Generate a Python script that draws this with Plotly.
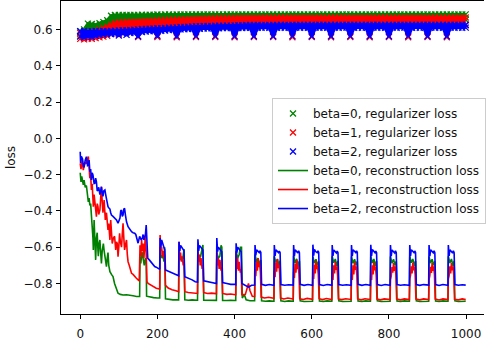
import plotly.graph_objects as go

# ---------------------------------------------------------------------------
# Regularizer loss: sampled every 10 steps, lower / upper edge of the noisy band
# ---------------------------------------------------------------------------
reg_steps = list(range(0, 1000, 10)) + [999]

reg_lo_beta0 = [
    0.565, 0.572, 0.590, 0.595, 0.598, 0.600, 0.604, 0.612, 0.640, 0.645,
    0.648, 0.648, 0.649, 0.648, 0.649, 0.635, 0.649, 0.650, 0.649, 0.650,
    0.636, 0.650, 0.651, 0.650, 0.651, 0.636, 0.651, 0.650, 0.651, 0.651,
    0.637, 0.651, 0.652, 0.651, 0.652, 0.637, 0.652, 0.651, 0.652, 0.652,
    0.638, 0.652, 0.653, 0.652, 0.653, 0.638, 0.653, 0.652, 0.653, 0.653,
    0.638, 0.652, 0.653, 0.652, 0.653, 0.638, 0.653, 0.652, 0.653, 0.653,
    0.638, 0.652, 0.653, 0.652, 0.653, 0.638, 0.653, 0.652, 0.653, 0.653,
    0.638, 0.652, 0.653, 0.652, 0.653, 0.638, 0.653, 0.652, 0.653, 0.653,
    0.638, 0.652, 0.653, 0.652, 0.653, 0.638, 0.653, 0.652, 0.653, 0.653,
    0.638, 0.652, 0.653, 0.652, 0.653, 0.638, 0.653, 0.652, 0.653, 0.653,
    0.653,
]
reg_hi_beta0 = [
    0.590, 0.600, 0.632, 0.630, 0.626, 0.634, 0.640, 0.650, 0.675, 0.679,
    0.680, 0.680, 0.679, 0.680, 0.680, 0.680, 0.681, 0.680, 0.681, 0.681,
    0.682, 0.681, 0.682, 0.682, 0.681, 0.682, 0.682, 0.682, 0.683, 0.682,
    0.683, 0.682, 0.683, 0.683, 0.682, 0.683, 0.683, 0.682, 0.683, 0.683,
    0.683, 0.682, 0.683, 0.683, 0.682, 0.683, 0.683, 0.682, 0.683, 0.683,
    0.683, 0.682, 0.683, 0.683, 0.682, 0.683, 0.683, 0.682, 0.683, 0.683,
    0.683, 0.682, 0.683, 0.683, 0.682, 0.683, 0.683, 0.682, 0.683, 0.683,
    0.683, 0.682, 0.683, 0.683, 0.682, 0.683, 0.683, 0.682, 0.683, 0.683,
    0.683, 0.682, 0.683, 0.683, 0.682, 0.683, 0.683, 0.682, 0.683, 0.683,
    0.683, 0.682, 0.683, 0.683, 0.682, 0.683, 0.683, 0.682, 0.683, 0.683,
    0.683,
]
reg_lo_beta1 = [
    0.548, 0.545, 0.550, 0.548, 0.552, 0.556, 0.560, 0.565, 0.575, 0.585,
    0.575, 0.592, 0.585, 0.596, 0.598, 0.558, 0.600, 0.602, 0.604, 0.605,
    0.558, 0.608, 0.609, 0.610, 0.611, 0.557, 0.612, 0.613, 0.613, 0.614,
    0.558, 0.615, 0.616, 0.616, 0.617, 0.558, 0.618, 0.618, 0.619, 0.619,
    0.557, 0.620, 0.620, 0.621, 0.621, 0.558, 0.621, 0.622, 0.622, 0.622,
    0.558, 0.622, 0.623, 0.622, 0.623, 0.557, 0.623, 0.622, 0.623, 0.623,
    0.558, 0.622, 0.623, 0.622, 0.623, 0.557, 0.623, 0.622, 0.623, 0.623,
    0.558, 0.622, 0.623, 0.622, 0.623, 0.557, 0.623, 0.622, 0.623, 0.623,
    0.558, 0.622, 0.623, 0.622, 0.623, 0.557, 0.623, 0.622, 0.623, 0.623,
    0.558, 0.622, 0.623, 0.622, 0.623, 0.557, 0.623, 0.622, 0.623, 0.623,
    0.623,
]
reg_hi_beta1 = [
    0.580, 0.582, 0.585, 0.588, 0.592, 0.598, 0.606, 0.615, 0.626, 0.635,
    0.638, 0.640, 0.641, 0.642, 0.643, 0.644, 0.645, 0.646, 0.647, 0.648,
    0.649, 0.650, 0.651, 0.652, 0.653, 0.654, 0.655, 0.656, 0.656, 0.657,
    0.658, 0.659, 0.659, 0.660, 0.660, 0.660, 0.661, 0.661, 0.661, 0.662,
    0.662, 0.663, 0.663, 0.663, 0.664, 0.664, 0.664, 0.665, 0.664, 0.665,
    0.665, 0.665, 0.666, 0.665, 0.665, 0.666, 0.665, 0.666, 0.665, 0.666,
    0.665, 0.665, 0.666, 0.665, 0.665, 0.666, 0.665, 0.666, 0.665, 0.666,
    0.665, 0.665, 0.666, 0.665, 0.665, 0.666, 0.665, 0.666, 0.665, 0.666,
    0.665, 0.665, 0.666, 0.665, 0.665, 0.666, 0.665, 0.666, 0.665, 0.666,
    0.665, 0.665, 0.666, 0.665, 0.665, 0.666, 0.665, 0.666, 0.665, 0.666,
    0.666,
]
reg_lo_beta2 = [
    0.560, 0.556, 0.562, 0.558, 0.565, 0.570, 0.572, 0.574, 0.575, 0.576,
    0.566, 0.578, 0.570, 0.580, 0.582, 0.562, 0.586, 0.588, 0.590, 0.591,
    0.565, 0.593, 0.594, 0.596, 0.598, 0.563, 0.600, 0.601, 0.602, 0.603,
    0.563, 0.604, 0.605, 0.605, 0.606, 0.563, 0.606, 0.607, 0.607, 0.607,
    0.562, 0.608, 0.608, 0.609, 0.609, 0.562, 0.609, 0.609, 0.610, 0.609,
    0.562, 0.609, 0.610, 0.609, 0.609, 0.563, 0.610, 0.609, 0.610, 0.609,
    0.562, 0.610, 0.609, 0.610, 0.609, 0.562, 0.610, 0.609, 0.610, 0.610,
    0.563, 0.609, 0.610, 0.609, 0.610, 0.562, 0.610, 0.609, 0.610, 0.609,
    0.562, 0.610, 0.609, 0.610, 0.610, 0.563, 0.609, 0.610, 0.609, 0.610,
    0.562, 0.610, 0.609, 0.610, 0.609, 0.562, 0.610, 0.609, 0.610, 0.609,
    0.610,
]
reg_hi_beta2 = [
    0.590, 0.592, 0.588, 0.590, 0.592, 0.590, 0.591, 0.590, 0.592, 0.593,
    0.594, 0.595, 0.596, 0.597, 0.598, 0.600, 0.602, 0.603, 0.604, 0.605,
    0.606, 0.607, 0.608, 0.609, 0.610, 0.611, 0.613, 0.614, 0.615, 0.616,
    0.617, 0.618, 0.619, 0.619, 0.619, 0.620, 0.620, 0.620, 0.621, 0.621,
    0.622, 0.623, 0.623, 0.624, 0.624, 0.624, 0.625, 0.624, 0.625, 0.625,
    0.625, 0.625, 0.626, 0.625, 0.625, 0.626, 0.625, 0.626, 0.625, 0.626,
    0.626, 0.625, 0.626, 0.626, 0.625, 0.626, 0.626, 0.625, 0.626, 0.626,
    0.626, 0.626, 0.625, 0.626, 0.626, 0.625, 0.626, 0.626, 0.625, 0.626,
    0.626, 0.625, 0.626, 0.626, 0.625, 0.626, 0.626, 0.625, 0.626, 0.626,
    0.626, 0.626, 0.625, 0.626, 0.626, 0.625, 0.626, 0.626, 0.625, 0.626,
    0.626,
]

# ---------------------------------------------------------------------------
# Reconstruction loss: (step, loss) vertices of each curve
# ---------------------------------------------------------------------------
recon_beta0 = [
    (0, -0.190), (2, -0.240), (4, -0.210), (6, -0.250), (8, -0.257), (10, -0.230),
    (13, -0.270), (16, -0.260), (19, -0.320), (21, -0.350), (23, -0.330), (25, -0.370),
    (27, -0.360), (29, -0.413), (31, -0.450), (33, -0.550), (34, -0.615), (36, -0.450),
    (38, -0.560), (40, -0.670), (42, -0.550), (44, -0.520), (46, -0.620), (47, -0.650),
    (49, -0.580), (51, -0.560), (53, -0.630), (55, -0.689), (57, -0.620), (60, -0.580),
    (62, -0.620), (64, -0.650), (66, -0.690), (68, -0.707), (70, -0.660), (72, -0.630),
    (74, -0.700), (77, -0.735), (81, -0.750), (85, -0.762), (89, -0.800), (93, -0.830),
    (98, -0.854), (104, -0.860), (111, -0.863), (120, -0.862), (128, -0.863), (137, -0.868),
    (146, -0.872), (154, -0.872), (155, -0.650), (157, -0.690), (160, -0.625), (163, -0.670),
    (166, -0.700), (169, -0.660), (171, -0.680), (172, -0.870), (180, -0.875), (190, -0.878),
    (200, -0.880), (205, -0.880),
    (206, -0.880), (207, -0.600), (209, -0.640), (212, -0.660), (215, -0.650), (217, -0.680),
    (219, -0.600), (221, -0.884), (230, -0.888), (240, -0.890), (254, -0.890),
    (255, -0.890), (256, -0.620), (258, -0.660), (262, -0.670), (266, -0.660), (269, -0.610),
    (271, -0.890), (280, -0.892), (290, -0.890), (303, -0.892),
    (304, -0.892), (305, -0.630), (308, -0.660), (312, -0.650), (316, -0.600), (318, -0.588),
    (320, -0.892), (330, -0.893), (340, -0.891), (352, -0.893),
    (353, -0.893), (354, -0.630), (358, -0.660), (362, -0.650), (365, -0.590), (367, -0.600),
    (369, -0.893), (380, -0.894), (390, -0.892), (402, -0.894),
    (403, -0.894), (404, -0.620), (408, -0.660), (412, -0.640), (415, -0.600), (418, -0.600),
    (420, -0.880), (425, -0.860), (430, -0.890), (440, -0.895), (451, -0.895),
    (452, -0.895), (453, -0.640), (457, -0.680), (461, -0.660), (465, -0.700), (468, -0.670),
    (470, -0.895), (480, -0.898), (490, -0.896), (501, -0.898),
    (502, -0.898), (503, -0.650), (507, -0.685), (511, -0.665), (515, -0.700), (518, -0.675),
    (520, -0.896), (530, -0.899), (540, -0.896), (551, -0.898),
    (552, -0.898), (553, -0.648), (557, -0.686), (561, -0.664), (565, -0.702), (568, -0.676),
    (570, -0.896), (580, -0.899), (590, -0.897), (601, -0.898),
    (602, -0.898), (603, -0.652), (607, -0.688), (611, -0.666), (615, -0.700), (618, -0.678),
    (620, -0.897), (630, -0.899), (640, -0.896), (651, -0.898),
    (652, -0.898), (653, -0.650), (657, -0.686), (661, -0.665), (665, -0.702), (668, -0.676),
    (670, -0.896), (680, -0.899), (690, -0.897), (701, -0.898),
    (702, -0.898), (703, -0.652), (707, -0.688), (711, -0.666), (715, -0.700), (718, -0.677),
    (720, -0.897), (730, -0.899), (740, -0.896), (751, -0.898),
    (752, -0.898), (753, -0.650), (757, -0.687), (761, -0.665), (765, -0.702), (768, -0.676),
    (770, -0.896), (780, -0.899), (790, -0.897), (802, -0.898),
    (803, -0.898), (804, -0.652), (808, -0.688), (812, -0.666), (816, -0.700), (819, -0.677),
    (821, -0.897), (830, -0.899), (840, -0.896), (852, -0.898),
    (853, -0.898), (854, -0.650), (858, -0.686), (862, -0.665), (866, -0.702), (869, -0.676),
    (871, -0.896), (880, -0.899), (890, -0.897), (902, -0.898),
    (903, -0.898), (904, -0.652), (908, -0.688), (912, -0.666), (916, -0.700), (919, -0.677),
    (921, -0.897), (930, -0.899), (940, -0.896), (952, -0.898),
    (953, -0.898), (954, -0.650), (958, -0.687), (962, -0.665), (966, -0.702), (969, -0.676),
    (971, -0.896), (980, -0.899), (990, -0.897), (999, -0.898),
]

recon_beta1 = [
    (0, -0.138), (2, -0.170), (5, -0.120), (8, -0.175), (10, -0.150), (13, -0.130),
    (16, -0.140), (19, -0.120), (21, -0.100), (23, -0.160), (25, -0.220), (27, -0.200),
    (29, -0.285), (31, -0.250), (34, -0.377), (36, -0.310), (38, -0.340), (40, -0.390),
    (42, -0.432), (44, -0.360), (46, -0.377), (48, -0.420), (51, -0.395), (53, -0.330),
    (55, -0.267), (57, -0.350), (59, -0.410), (62, -0.340), (65, -0.450), (68, -0.410),
    (70, -0.470), (72, -0.505), (74, -0.470), (77, -0.560), (79, -0.450), (81, -0.520),
    (83, -0.580), (86, -0.550), (89, -0.540), (92, -0.615), (94, -0.570), (96, -0.580),
    (98, -0.652), (100, -0.600), (102, -0.523), (104, -0.570), (107, -0.600), (109, -0.530),
    (111, -0.468), (113, -0.550), (115, -0.615), (118, -0.580), (120, -0.560), (122, -0.640),
    (124, -0.680), (127, -0.700), (130, -0.730), (133, -0.744), (137, -0.750), (141, -0.762),
    (145, -0.770), (150, -0.780), (153, -0.785), (155, -0.590), (157, -0.650), (159, -0.560),
    (161, -0.620), (163, -0.580), (165, -0.660), (167, -0.600), (169, -0.530), (171, -0.640),
    (173, -0.790), (176, -0.800), (183, -0.810), (190, -0.820), (197, -0.826), (205, -0.830),
    (206, -0.830), (207, -0.533), (209, -0.620), (211, -0.600), (213, -0.650), (215, -0.620),
    (217, -0.660), (219, -0.640), (221, -0.810), (228, -0.825), (238, -0.835), (248, -0.840),
    (254, -0.845),
    (255, -0.845), (256, -0.570), (258, -0.660), (260, -0.630), (262, -0.680), (264, -0.650),
    (267, -0.700), (269, -0.680), (271, -0.845), (280, -0.850), (290, -0.852), (303, -0.855),
    (304, -0.855), (305, -0.600), (307, -0.680), (309, -0.640), (311, -0.700), (313, -0.660),
    (316, -0.720), (318, -0.700), (320, -0.850), (330, -0.855), (340, -0.853), (352, -0.856),
    (353, -0.856), (354, -0.610), (356, -0.700), (358, -0.660), (360, -0.720), (362, -0.670),
    (365, -0.730), (367, -0.710), (369, -0.855), (380, -0.860), (390, -0.858), (402, -0.862),
    (403, -0.862), (404, -0.625), (406, -0.720), (408, -0.660), (410, -0.730), (412, -0.680),
    (415, -0.740), (417, -0.720), (419, -0.862), (428, -0.860), (436, -0.800), (440, -0.840),
    (446, -0.870), (451, -0.872),
    (452, -0.872), (453, -0.720), (455, -0.760), (457, -0.680), (459, -0.730), (461, -0.660),
    (463, -0.710), (465, -0.690), (467, -0.740), (469, -0.875), (478, -0.880), (488, -0.876),
    (501, -0.882),
    (502, -0.882), (503, -0.730), (505, -0.765), (507, -0.685), (509, -0.735), (511, -0.665),
    (513, -0.715), (515, -0.695), (517, -0.745), (519, -0.880), (528, -0.885), (538, -0.880),
    (551, -0.886),
    (552, -0.886), (553, -0.735), (555, -0.770), (557, -0.690), (559, -0.740), (561, -0.670),
    (563, -0.720), (565, -0.700), (567, -0.750), (569, -0.884), (578, -0.888), (588, -0.882),
    (601, -0.887),
    (602, -0.887), (603, -0.740), (605, -0.775), (607, -0.695), (609, -0.745), (611, -0.675),
    (613, -0.720), (615, -0.700), (617, -0.750), (619, -0.884), (628, -0.889), (638, -0.883),
    (651, -0.888),
    (652, -0.888), (653, -0.740), (655, -0.780), (657, -0.700), (659, -0.745), (661, -0.680),
    (663, -0.725), (665, -0.705), (667, -0.755), (669, -0.885), (678, -0.889), (688, -0.884),
    (701, -0.888),
    (702, -0.888), (703, -0.745), (705, -0.780), (707, -0.700), (709, -0.750), (711, -0.680),
    (713, -0.725), (715, -0.705), (717, -0.755), (719, -0.885), (728, -0.890), (738, -0.884),
    (751, -0.889),
    (752, -0.889), (753, -0.745), (755, -0.780), (757, -0.700), (759, -0.750), (761, -0.682),
    (763, -0.728), (765, -0.705), (767, -0.755), (769, -0.886), (778, -0.890), (788, -0.885),
    (802, -0.889),
    (803, -0.889), (804, -0.780), (806, -0.760), (808, -0.710), (810, -0.740), (812, -0.688),
    (814, -0.730), (816, -0.705), (818, -0.750), (820, -0.886), (830, -0.890), (840, -0.885),
    (852, -0.889),
    (853, -0.889), (854, -0.775), (856, -0.755), (858, -0.705), (860, -0.745), (862, -0.685),
    (864, -0.728), (866, -0.705), (868, -0.752), (870, -0.886), (880, -0.890), (890, -0.885),
    (902, -0.889),
    (903, -0.889), (904, -0.778), (906, -0.758), (908, -0.708), (910, -0.742), (912, -0.686),
    (914, -0.730), (916, -0.706), (918, -0.750), (920, -0.886), (930, -0.891), (940, -0.885),
    (952, -0.889),
    (953, -0.889), (954, -0.776), (956, -0.756), (958, -0.706), (960, -0.744), (962, -0.688),
    (964, -0.728), (966, -0.705), (968, -0.752), (970, -0.887), (980, -0.890), (990, -0.885),
    (999, -0.889),
]

recon_beta2 = [
    (0, -0.074), (1, -0.138), (3, -0.100), (6, -0.114), (8, -0.150), (10, -0.160),
    (13, -0.120), (16, -0.101), (19, -0.150), (21, -0.147), (23, -0.120), (25, -0.184),
    (27, -0.170), (29, -0.230), (31, -0.190), (33, -0.202), (36, -0.250), (38, -0.248),
    (40, -0.220), (42, -0.240), (44, -0.290), (46, -0.285), (48, -0.270), (51, -0.310),
    (53, -0.290), (55, -0.267), (57, -0.300), (59, -0.320), (61, -0.290), (64, -0.285),
    (66, -0.310), (68, -0.330), (70, -0.360), (72, -0.377), (75, -0.385), (77, -0.390),
    (79, -0.410), (81, -0.423), (85, -0.430), (90, -0.440), (94, -0.450), (98, -0.468),
    (101, -0.450), (103, -0.440), (105, -0.400), (107, -0.395), (109, -0.430), (111, -0.423),
    (113, -0.390), (115, -0.386), (117, -0.420), (120, -0.460), (124, -0.487), (128, -0.500),
    (133, -0.515), (137, -0.520), (141, -0.523), (144, -0.530), (146, -0.550), (150, -0.578),
    (154, -0.540), (156, -0.555), (158, -0.560), (161, -0.550), (163, -0.530), (165, -0.560),
    (167, -0.542), (169, -0.530), (171, -0.478), (173, -0.620), (175, -0.661), (179, -0.670),
    (183, -0.680), (188, -0.695), (193, -0.707), (197, -0.710), (201, -0.716), (204, -0.720),
    (206, -0.722), (207, -0.550), (209, -0.600), (211, -0.560), (214, -0.580), (217, -0.600),
    (219, -0.615), (221, -0.726), (230, -0.735), (240, -0.745), (248, -0.752), (254, -0.755),
    (255, -0.757), (256, -0.570), (258, -0.620), (260, -0.590), (263, -0.600), (267, -0.612),
    (269, -0.620), (271, -0.763), (280, -0.770), (290, -0.780), (298, -0.790), (303, -0.790),
    (304, -0.792), (305, -0.556), (307, -0.620), (309, -0.590), (312, -0.600), (316, -0.610),
    (318, -0.615), (320, -0.785), (330, -0.790), (340, -0.796), (352, -0.800),
    (353, -0.800), (354, -0.550), (356, -0.625), (358, -0.600), (361, -0.612), (365, -0.620),
    (367, -0.625), (369, -0.795), (380, -0.800), (390, -0.805), (402, -0.805),
    (403, -0.806), (404, -0.578), (406, -0.630), (408, -0.600), (411, -0.610), (415, -0.620),
    (417, -0.625), (419, -0.800), (428, -0.812), (436, -0.820), (444, -0.810), (451, -0.808),
    (452, -0.808), (453, -0.588), (455, -0.645), (457, -0.615), (460, -0.620), (464, -0.630),
    (466, -0.622), (468, -0.628), (470, -0.805), (480, -0.810), (490, -0.806), (501, -0.810),
    (502, -0.810), (503, -0.588), (505, -0.648), (507, -0.615), (510, -0.622), (514, -0.630),
    (516, -0.622), (518, -0.630), (520, -0.806), (530, -0.810), (540, -0.807), (551, -0.810),
    (552, -0.809), (553, -0.588), (555, -0.650), (557, -0.614), (560, -0.622), (564, -0.632),
    (566, -0.620), (568, -0.630), (570, -0.805), (580, -0.810), (590, -0.806), (601, -0.810),
    (602, -0.810), (603, -0.586), (605, -0.646), (607, -0.612), (610, -0.624), (614, -0.630),
    (616, -0.620), (618, -0.628), (620, -0.806), (630, -0.811), (640, -0.806), (651, -0.809),
    (652, -0.809), (653, -0.588), (655, -0.648), (657, -0.615), (660, -0.622), (664, -0.632),
    (666, -0.621), (668, -0.630), (670, -0.806), (680, -0.810), (690, -0.807), (701, -0.810),
    (702, -0.810), (703, -0.588), (705, -0.650), (707, -0.614), (710, -0.623), (714, -0.630),
    (716, -0.620), (718, -0.628), (720, -0.805), (730, -0.810), (740, -0.806), (751, -0.810),
    (752, -0.810), (753, -0.587), (755, -0.648), (757, -0.613), (760, -0.622), (764, -0.631),
    (766, -0.621), (768, -0.630), (770, -0.806), (780, -0.811), (790, -0.806), (802, -0.810),
    (803, -0.810), (804, -0.588), (806, -0.650), (808, -0.615), (811, -0.622), (815, -0.632),
    (817, -0.620), (819, -0.630), (821, -0.806), (830, -0.810), (840, -0.807), (852, -0.810),
    (853, -0.810), (854, -0.588), (856, -0.648), (858, -0.614), (861, -0.623), (865, -0.630),
    (867, -0.621), (869, -0.629), (871, -0.806), (880, -0.810), (890, -0.806), (902, -0.809),
    (903, -0.809), (904, -0.588), (906, -0.650), (908, -0.615), (911, -0.622), (915, -0.631),
    (917, -0.620), (919, -0.630), (921, -0.806), (930, -0.811), (940, -0.806), (952, -0.810),
    (953, -0.810), (954, -0.588), (956, -0.648), (958, -0.614), (961, -0.622), (965, -0.632),
    (967, -0.620), (969, -0.630), (971, -0.806), (980, -0.810), (990, -0.807), (999, -0.809),
]

series_names = ["beta=0", "beta=1", "beta=2"]
series_colors = ["#008000", "#ff0000", "#0000ff"]
x_ticks = [0, 200, 400, 600, 800, 1000]
y_ticks = [-0.8, -0.6, -0.4, -0.2, 0.0, 0.2, 0.4, 0.6]
y_tick_text = ["\u22120.8", "\u22120.6", "\u22120.4", "\u22120.2", "0.0", "0.2", "0.4", "0.6"]

FONT = "DejaVu Sans, Verdana, sans-serif"
fig = go.Figure()

# Regularizer loss: dense band of 'x' markers (band body + marker fringe)
reg_bands = [
    (reg_lo_beta0, reg_hi_beta0),
    (reg_lo_beta1, reg_hi_beta1),
    (reg_lo_beta2, reg_hi_beta2),
]
for name, color, (lo, hi) in zip(series_names, series_colors, reg_bands):
    fig.add_trace(go.Scatter(
        x=reg_steps, y=lo, mode="lines", line=dict(color=color, width=3),
        showlegend=False, hoverinfo="skip"))
    fig.add_trace(go.Scatter(
        x=reg_steps, y=hi, mode="lines", line=dict(color=color, width=3),
        fill="tonexty", fillcolor=color, showlegend=False, hoverinfo="skip"))
    fig.add_trace(go.Scatter(
        x=reg_steps + reg_steps, y=lo + hi, mode="markers",
        marker=dict(symbol="x-thin", size=6, color=color,
                    line=dict(color=color, width=1.3)),
        name=f"{name}, regularizer loss"))

# Reconstruction loss curves
for name, color, pts in zip(series_names, series_colors,
                            [recon_beta0, recon_beta1, recon_beta2]):
    xs = [p[0] for p in pts]
    ys = [p[1] for p in pts]
    fig.add_trace(go.Scatter(
        x=xs, y=ys, mode="lines", line=dict(color=color, width=1.6),
        name=f"{name}, reconstruction loss"))

axis_common = dict(
    showgrid=False, zeroline=False, showline=True, linecolor="#000000", linewidth=1,
    ticks="outside", ticklen=4, tickwidth=1, tickcolor="#000000",
    tickfont=dict(family=FONT, size=12, color="#111111"),
)
fig.update_xaxes(range=[-49.8, 1046.4], tickvals=x_ticks, mirror=True,
                 ticklabelstandoff=5, **axis_common)
fig.update_yaxes(range=[-0.9681, 0.7565], tickvals=y_ticks, ticktext=y_tick_text,
                 ticklabelstandoff=1,
                 title=dict(text="loss", font=dict(family=FONT, size=12, color="#111111"),
                            standoff=5),
                 **axis_common)

fig.update_layout(
    width=486, height=343,
    margin=dict(l=61, r=0, t=1, b=29),
    paper_bgcolor="white", plot_bgcolor="white",
    font=dict(family=FONT, size=12, color="#111111"),
    legend=dict(
        x=0.4988, y=0.690, xanchor="left", yanchor="top",
        traceorder="normal",
        bgcolor="rgba(255,255,255,0.8)", bordercolor="#cccccc", borderwidth=1,
        font=dict(family=FONT, size=12, color="#111111"),
        tracegroupgap=0,
    ),
)

fig.write_html("out.html", config={"displayModeBar": False})
